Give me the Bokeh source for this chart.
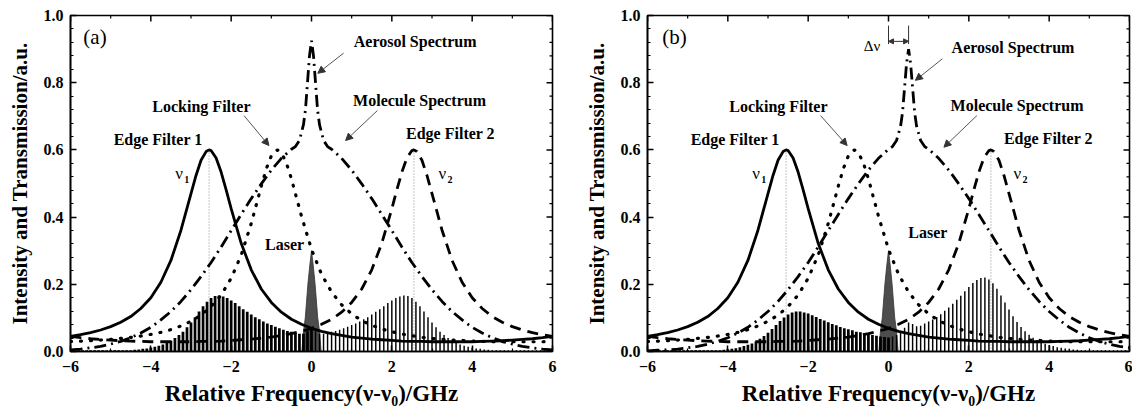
import math
from bokeh.plotting import figure
from bokeh.layouts import row
from bokeh.models import (Range1d, SingleIntervalTicker, NumeralTickFormatter,
                          Label, Arrow, NormalHead)
from bokeh.embed import file_html
from bokeh.resources import INLINE

# ---------------- data ----------------
ef1_x = [-6.0, -5.75, -5.5, -5.25, -5.0, -4.75, -4.5, -4.25, -4.0, -3.75, -3.5, -3.25, -3.0,
         -2.875, -2.75, -2.625, -2.55, -2.5, -2.375, -2.25, -2.125, -2.0,
         -1.75, -1.5, -1.25, -1.0, -0.75, -0.5, -0.25, 0.0,
         0.25, 0.5, 0.75, 1.0, 1.25, 1.5, 1.75, 2.0, 2.25, 2.5, 2.75, 3.0,
         3.25, 3.5, 3.75, 4.0, 4.25, 4.5, 4.75, 5.0, 5.25, 5.5, 5.75, 6.0]
ef1_y = [0.045, 0.050, 0.056, 0.064, 0.074, 0.087, 0.104, 0.128, 0.160, 0.206, 0.271, 0.361, 0.470,
         0.524, 0.569, 0.595, 0.600, 0.598, 0.576, 0.534, 0.481, 0.425,
         0.322, 0.243, 0.186, 0.146, 0.117, 0.096, 0.081, 0.069,
         0.060, 0.053, 0.048, 0.043, 0.040, 0.037, 0.035, 0.033, 0.031, 0.030, 0.030, 0.029,
         0.029, 0.029, 0.029, 0.029, 0.030, 0.031, 0.032, 0.034, 0.036, 0.038, 0.041, 0.045]

ef2_x = [-6.0, -5.75, -5.5, -5.25, -5.0, -4.75, -4.5, -4.25, -4.0, -3.75, -3.5, -3.25, -3.0,
         -2.75, -2.5, -2.25, -2.0, -1.75, -1.5, -1.25, -1.0, -0.75, -0.5, -0.25, 0.0,
         0.25, 0.5, 0.75, 1.0, 1.25, 1.5, 1.75, 2.0,
         2.125, 2.25, 2.375, 2.5, 2.55, 2.625, 2.75, 2.875, 3.0,
         3.25, 3.5, 3.75, 4.0, 4.25, 4.5, 4.75, 5.0, 5.25, 5.5, 5.75, 6.0]
ef2_y = [0.045, 0.041, 0.038, 0.036, 0.034, 0.032, 0.031, 0.030, 0.029, 0.029, 0.029, 0.029, 0.029,
         0.030, 0.030, 0.031, 0.033, 0.035, 0.037, 0.040, 0.043, 0.048, 0.053, 0.060, 0.069,
         0.081, 0.096, 0.117, 0.146, 0.186, 0.243, 0.322, 0.425,
         0.481, 0.534, 0.576, 0.598, 0.600, 0.595, 0.569, 0.524, 0.470,
         0.361, 0.271, 0.206, 0.160, 0.128, 0.104, 0.087, 0.074, 0.064, 0.056, 0.050, 0.045]

lock_x = [-6.0, -5.75, -5.5, -5.25, -5.0, -4.75, -4.5, -4.25, -4.0, -3.75, -3.5, -3.25, -3.0,
          -2.75, -2.5, -2.25, -2.0, -1.75, -1.5, -1.25, -1.125, -1.0, -0.85, -0.75, -0.625,
          -0.5, -0.25, 0.0, 0.25, 0.5, 0.75, 1.0, 1.25, 1.5, 1.75, 2.0, 2.25, 2.5, 2.75, 3.0,
          3.25, 3.5, 3.75, 4.0, 4.25, 4.5, 4.75, 5.0, 5.25, 5.5, 5.75, 6.0]
lock_y = [0.030, 0.031, 0.032, 0.034, 0.036, 0.039, 0.042, 0.046, 0.051, 0.057, 0.065, 0.076, 0.090,
          0.108, 0.134, 0.168, 0.218, 0.287, 0.381, 0.492, 0.544, 0.582, 0.600, 0.592, 0.561,
          0.514, 0.403, 0.304, 0.230, 0.177, 0.139, 0.112, 0.092, 0.078, 0.067, 0.059, 0.052, 0.047, 0.042, 0.039,
          0.036, 0.034, 0.033, 0.031, 0.030, 0.029, 0.029, 0.029, 0.029, 0.029, 0.029, 0.030]

spec_a_x = [-6.0, -5.75, -5.5, -5.25, -5.0, -4.75, -4.5, -4.25, -4.0, -3.75, -3.5, -3.25, -3.0,
            -2.75, -2.5, -2.25, -2.0, -1.75, -1.5, -1.25, -1.0, -0.75, -0.5,
            -0.4, -0.3, -0.2, -0.15, -0.1, -0.05, 0.0, 0.05, 0.1, 0.15, 0.2, 0.3, 0.4,
            0.5, 0.75, 1.0, 1.25, 1.5, 1.75, 2.0, 2.25, 2.5, 2.75, 3.0, 3.25, 3.5, 3.75,
            4.0, 4.25, 4.5, 4.75, 5.0, 5.25, 5.5, 5.75, 6.0]
spec_a_y = [0.005, 0.007, 0.011, 0.015, 0.022, 0.030, 0.041, 0.055, 0.072, 0.094, 0.119, 0.149, 0.184,
            0.223, 0.265, 0.311, 0.360, 0.408, 0.455, 0.499, 0.540, 0.575, 0.602,
            0.610, 0.628, 0.675, 0.720, 0.800, 0.880, 0.925, 0.880, 0.800, 0.720, 0.675, 0.628, 0.610,
            0.602, 0.575, 0.540, 0.499, 0.455, 0.408, 0.360, 0.311, 0.265, 0.223, 0.184, 0.149, 0.119, 0.094,
            0.072, 0.055, 0.041, 0.030, 0.022, 0.015, 0.011, 0.007, 0.005]

spec_b_x = [-6.0, -5.75, -5.5, -5.25, -5.0, -4.75, -4.5, -4.25, -4.0, -3.75, -3.5, -3.25, -3.0,
            -2.75, -2.5, -2.25, -2.0, -1.75, -1.5, -1.25, -1.0, -0.75, -0.5, -0.25, 0.0,
            0.1, 0.2, 0.3, 0.35, 0.4, 0.45, 0.5, 0.55, 0.6, 0.65, 0.7, 0.8, 0.9, 1.0,
            1.25, 1.5, 1.75, 2.0, 2.25, 2.5, 2.75, 3.0, 3.25, 3.5, 3.75, 4.0, 4.25, 4.5, 4.75,
            5.0, 5.25, 5.5, 5.75, 6.0]
spec_b_y = [0.002, 0.004, 0.005, 0.007, 0.011, 0.015, 0.022, 0.030, 0.041, 0.055, 0.072, 0.094, 0.119,
            0.149, 0.184, 0.223, 0.265, 0.311, 0.360, 0.408, 0.455, 0.499, 0.540, 0.575, 0.602,
            0.610, 0.628, 0.670, 0.712, 0.785, 0.858, 0.900, 0.858, 0.785, 0.712, 0.670, 0.628, 0.610, 0.602,
            0.575, 0.540, 0.499, 0.455, 0.408, 0.360, 0.311, 0.265, 0.223, 0.184, 0.149, 0.119, 0.094, 0.072, 0.055,
            0.041, 0.030, 0.022, 0.015, 0.011]

laser_x = [-0.24, -0.2, -0.155, -0.09, -0.04, 0.0, 0.04, 0.09, 0.155, 0.2, 0.24]
laser_y = [0.0, 0.06, 0.10, 0.20, 0.26, 0.30, 0.26, 0.20, 0.10, 0.06, 0.0]

hatch_left_x = [-6.0, -5.9, -5.8, -5.7, -5.6, -5.5, -5.4, -5.3, -5.2, -5.1,
                -5.0, -4.9, -4.8, -4.7, -4.6, -4.5, -4.4, -4.3, -4.2, -4.1,
                -4.0, -3.9, -3.8, -3.7, -3.6, -3.5, -3.4, -3.3, -3.2, -3.1,
                -3.0, -2.9, -2.8, -2.7, -2.6, -2.5, -2.4, -2.3, -2.2, -2.1,
                -2.0, -1.9, -1.8, -1.7, -1.6, -1.5, -1.4, -1.3, -1.2, -1.1,
                -1.0, -0.9, -0.8, -0.7, -0.6, -0.5, -0.4, -0.3, -0.2, -0.1, 0.0]
hatch_right_x = [0.1, 0.2, 0.3, 0.4, 0.5, 0.6, 0.7, 0.8, 0.9, 1.0,
                 1.1, 1.2, 1.3, 1.4, 1.5, 1.6, 1.7, 1.8, 1.9, 2.0,
                 2.1, 2.2, 2.3, 2.4, 2.5, 2.6, 2.7, 2.8, 2.9, 3.0,
                 3.1, 3.2, 3.3, 3.4, 3.5, 3.6, 3.7, 3.8, 3.9, 4.0,
                 4.1, 4.2, 4.3, 4.4, 4.5, 4.6, 4.7, 4.8, 4.9, 5.0,
                 5.1, 5.2, 5.3, 5.4, 5.5, 5.6, 5.7, 5.8, 5.9, 6.0]

hatch_a_left = [0.004, 0.004, 0.004, 0.004, 0.004, 0.004, 0.004, 0.004, 0.004, 0.004,
                0.004, 0.004, 0.004, 0.004, 0.004, 0.004, 0.005, 0.006, 0.008, 0.009,
                0.012, 0.014, 0.017, 0.021, 0.026, 0.032, 0.040, 0.049, 0.059, 0.072,
                0.086, 0.102, 0.119, 0.135, 0.148, 0.159, 0.165, 0.167, 0.164, 0.159,
                0.152, 0.144, 0.135, 0.126, 0.118, 0.110, 0.102, 0.096, 0.089, 0.083,
                0.079, 0.074, 0.069, 0.065, 0.061, 0.059, 0.056, 0.053, 0.053, 0.060, 0.064]
hatch_a_right = [0.060, 0.053, 0.053, 0.056, 0.059, 0.061, 0.065, 0.069, 0.074, 0.079,
                 0.083, 0.089, 0.096, 0.102, 0.110, 0.118, 0.126, 0.135, 0.144, 0.152,
                 0.159, 0.164, 0.167, 0.165, 0.159, 0.148, 0.135, 0.119, 0.102, 0.086,
                 0.072, 0.059, 0.049, 0.040, 0.032, 0.026, 0.021, 0.017, 0.014, 0.012,
                 0.009, 0.008, 0.006, 0.005, 0.004, 0.004, 0.004, 0.004, 0.004, 0.004,
                 0.004, 0.004, 0.004, 0.004, 0.004, 0.004, 0.004, 0.004, 0.004, 0.004]
hatch_b_left = [0.004, 0.004, 0.004, 0.004, 0.004, 0.004, 0.004, 0.004, 0.004, 0.004,
                0.004, 0.004, 0.004, 0.004, 0.004, 0.004, 0.004, 0.004, 0.004, 0.005,
                0.007, 0.008, 0.010, 0.013, 0.016, 0.020, 0.024, 0.030, 0.038, 0.046,
                0.056, 0.067, 0.079, 0.091, 0.101, 0.110, 0.116, 0.119, 0.119, 0.116,
                0.113, 0.108, 0.103, 0.097, 0.092, 0.087, 0.082, 0.078, 0.073, 0.069,
                0.066, 0.063, 0.059, 0.057, 0.054, 0.051, 0.049, 0.047, 0.045, 0.043, 0.042]
hatch_b_right = [0.045, 0.049, 0.056, 0.071, 0.086, 0.082, 0.075, 0.077, 0.083, 0.089,
                 0.095, 0.103, 0.111, 0.121, 0.131, 0.142, 0.154, 0.166, 0.179, 0.192,
                 0.204, 0.213, 0.219, 0.220, 0.214, 0.203, 0.187, 0.167, 0.146, 0.125,
                 0.105, 0.088, 0.073, 0.060, 0.050, 0.041, 0.034, 0.028, 0.023, 0.019,
                 0.016, 0.013, 0.011, 0.009, 0.008, 0.006, 0.005, 0.004, 0.004, 0.004,
                 0.004, 0.004, 0.004, 0.004, 0.004, 0.004, 0.004, 0.004, 0.004, 0.004]

filter_centers = [-2.55, 2.55]
filter_peak = 0.6
doppler_shift = 0.5

x_major_ticks = [-6, -4, -2, 0, 2, 4, 6]
x_minor_ticks = [-5, -3, -1, 1, 3, 5]
y_major_ticks = [0.0, 0.2, 0.4, 0.6, 0.8, 1.0]
y_minor_ticks = [0.04, 0.08, 0.12, 0.16, 0.24, 0.28, 0.32, 0.36, 0.44, 0.48, 0.52, 0.56,
                 0.64, 0.68, 0.72, 0.76, 0.84, 0.88, 0.92, 0.96]

FONT = "Liberation Serif"
LW = 2.8


def style_axis(ax):
    ax.axis_line_width = 1.6
    ax.axis_line_color = "black"
    ax.major_tick_in = 6
    ax.major_tick_out = 0
    ax.minor_tick_in = 3
    ax.minor_tick_out = 0
    ax.major_tick_line_width = 1.5
    ax.minor_tick_line_width = 1.2
    ax.major_tick_line_color = "black"
    ax.minor_tick_line_color = "black"
    ax.major_label_text_font = FONT
    ax.major_label_text_font_style = "bold"
    ax.major_label_text_color = "black"
    ax.major_label_text_font_size = "16px"
    ax.axis_label_text_font = FONT
    ax.axis_label_text_font_style = "bold"
    ax.axis_label_text_font_size = "21px"
    ax.axis_label_text_color = "black"


def txt(p, x, y, text, size="16px", style="bold", align="center", baseline="middle",
        x_offset=0, y_offset=0):
    p.add_layout(Label(x=x, y=y, text=text, text_font=FONT, text_font_size=size,
                       text_font_style=style, text_align=align, text_baseline=baseline,
                       x_offset=x_offset, y_offset=y_offset, text_color="black"))


def arrow(p, x0, y0, x1, y1):
    p.add_layout(Arrow(x_start=x0, y_start=y0, x_end=x1, y_end=y1, line_color="#555555",
                       line_width=1,
                       end=NormalHead(size=7, fill_color="#333333", line_color="#333333",
                                      line_width=1)))


def make_panel(tag, spec_x, spec_y, h_left, h_right, width, left, right, lab):
    p = figure(width=width, height=411, x_range=Range1d(-6, 6), y_range=Range1d(0, 1.0),
               output_backend="svg", toolbar_location=None,
               min_border_left=left, min_border_right=right, min_border_top=15,
               min_border_bottom=60, outline_line_color="black", outline_line_width=1.6,
               background_fill_color="white", border_fill_color="white")
    p.grid.visible = False

    p.xaxis.ticker = SingleIntervalTicker(interval=2, num_minor_ticks=2)
    p.yaxis.ticker = SingleIntervalTicker(interval=0.2, num_minor_ticks=5)
    p.yaxis.formatter = NumeralTickFormatter(format="0.0")
    style_axis(p.xaxis[0])
    style_axis(p.yaxis[0])
    p.xaxis.major_label_standoff = 9
    p.yaxis.major_label_standoff = 7
    p.yaxis.axis_label = "Intensity and Transmission/a.u."
    p.yaxis.axis_label_standoff = 9
    p.xaxis.axis_label = "Relative Frequency(ν-ν₀)/GHz"
    p.xaxis.axis_label_text_font_size = "23px"
    p.xaxis.axis_label_standoff = 6

    # inward ticks on the top and right frame edges
    p.ray(x=x_major_ticks, y=[1.0] * len(x_major_ticks), length=6, length_units="screen",
          angle=-math.pi / 2, line_color="black", line_width=1.5)
    p.ray(x=x_minor_ticks, y=[1.0] * len(x_minor_ticks), length=3, length_units="screen",
          angle=-math.pi / 2, line_color="black", line_width=1.2)
    p.ray(x=[6] * len(y_major_ticks), y=y_major_ticks, length=6, length_units="screen",
          angle=math.pi, line_color="black", line_width=1.5)
    p.ray(x=[6] * len(y_minor_ticks), y=y_minor_ticks, length=3, length_units="screen",
          angle=math.pi, line_color="black", line_width=1.2)

    # laser line
    p.patch(laser_x, laser_y, fill_color="#4d4d4d", line_color="#333333", line_width=0.8)
    # filtered signal (hatched)
    p.vbar(x=hatch_left_x, top=h_left, width=0.068, bottom=0, fill_color="black",
           line_color=None)
    p.vbar(x=hatch_right_x, top=h_right, width=0.036, bottom=0, fill_color="black",
           line_color=None)
    # nu1 / nu2 markers
    p.segment(x0=filter_centers, y0=[0, 0], x1=filter_centers, y1=[filter_peak, filter_peak],
              line_color="#8a8a8a", line_width=1, line_dash="1 2")

    p.line(ef1_x, ef1_y, line_color="black", line_width=LW)
    p.line(ef2_x, ef2_y, line_color="black", line_width=LW, line_dash="11 7")
    p.line(spec_x, spec_y, line_color="black", line_width=LW, line_dash="12 5 2 5")
    p.line(lock_x, lock_y, line_color="black", line_width=3.2, line_dash="1 9",
           line_cap="round")

    # panel tag
    txt(p, lab["tag"][0], lab["tag"][1], tag, size="21px", style="normal", align="left")
    for name in ["Edge Filter 1", "Locking Filter", "Aerosol Spectrum", "Molecule Spectrum",
                 "Edge Filter 2", "Laser"]:
        txt(p, lab[name][0], lab[name][1], name, size="16px")
    # nu labels
    for k, s in (("nu1", "1"), ("nu2", "2")):
        txt(p, lab[k][0], lab[k][1], "ν", size="17px", style="normal", align="left")
        txt(p, lab[k][0], lab[k][1], s, size="10px", align="left", x_offset=9, y_offset=-6)
    for a in lab["arrows"]:
        arrow(p, *a)
    return p


lab_a = {
    "tag": (-5.68, 0.937),
    "Edge Filter 1": (-3.82, 0.632),
    "Locking Filter": (-2.74, 0.728),
    "Aerosol Spectrum": (2.58, 0.923),
    "Molecule Spectrum": (2.69, 0.747),
    "Edge Filter 2": (3.46, 0.65),
    "Laser": (-0.67, 0.318),
    "nu1": (-3.39, 0.53),
    "nu2": (3.16, 0.53),
    "arrows": [(-1.68, 0.702, -1.06, 0.613), (0.8, 0.888, 0.157, 0.828),
               (1.64, 0.717, 0.85, 0.628)],
}
lab_b = {
    "tag": (-5.63, 0.935),
    "Edge Filter 1": (-3.82, 0.632),
    "Locking Filter": (-2.74, 0.728),
    "Aerosol Spectrum": (3.1, 0.906),
    "Molecule Spectrum": (3.2, 0.732),
    "Edge Filter 2": (3.98, 0.633),
    "Laser": (0.98, 0.353),
    "nu1": (-3.39, 0.53),
    "nu2": (3.11, 0.53),
    "arrows": [(-1.69, 0.702, -1.03, 0.613), (1.34, 0.871, 0.67, 0.807),
               (2.2, 0.702, 1.38, 0.608)],
}

p1 = make_panel("(a)", spec_a_x, spec_a_y, hatch_a_left, hatch_a_right, 575, 70, 23, lab_a)
p2 = make_panel("(b)", spec_b_x, spec_b_y, hatch_b_left, hatch_b_right, 557, 72, 3, lab_b)

# Doppler shift marker in (b)
p2.segment(x0=[0, doppler_shift], y0=[0.915, 0.915], x1=[0, doppler_shift], y1=[0.97, 0.97],
           line_color="#333333", line_width=1)
p2.add_layout(Arrow(x_start=0, y_start=0.923, x_end=doppler_shift, y_end=0.923,
                    line_color="#333333", line_width=1,
                    start=NormalHead(size=5, fill_color="#333333", line_color="#333333"),
                    end=NormalHead(size=5, fill_color="#333333", line_color="#333333")))
txt(p2, -0.41, 0.91, "Δν", size="15px", style="normal")

layout = row(p1, p2)
open("out.html", "w").write(file_html(layout, INLINE))
